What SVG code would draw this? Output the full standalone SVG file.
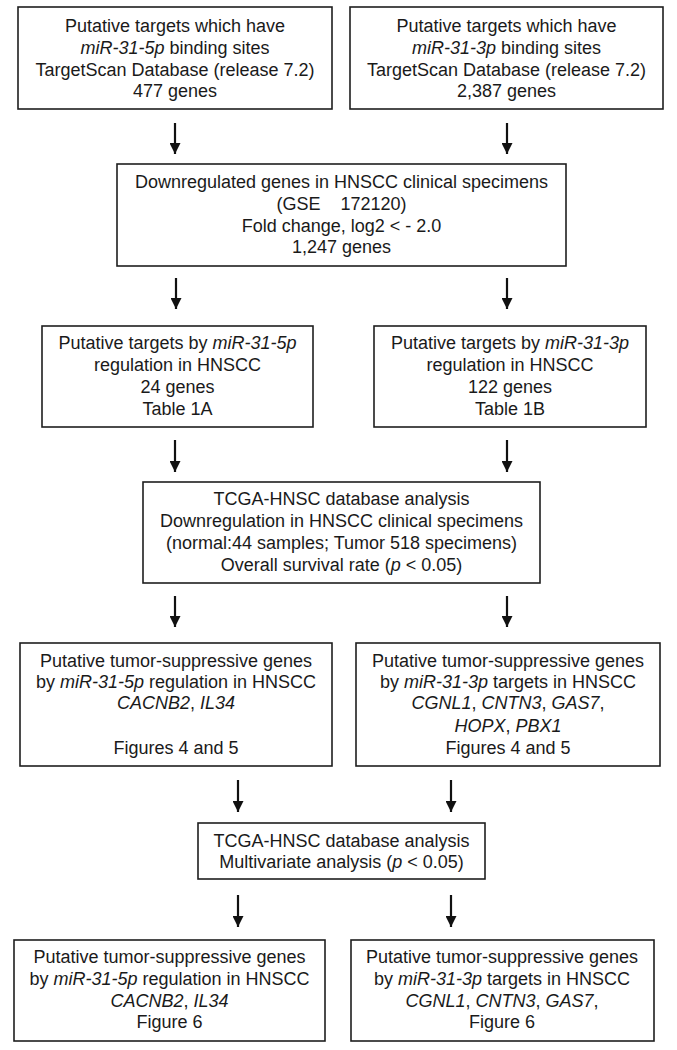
<svg xmlns="http://www.w3.org/2000/svg" width="677" height="1050" viewBox="0 0 677 1050">
<style>
  .box { fill: #ffffff; stroke: #1e1e1e; stroke-width: 1.6; }
  text { font-family: "Liberation Sans", Arial, sans-serif; font-size: 18px; fill: #1a1a1a; text-anchor: middle; }
  .i { font-style: italic; }
  .arr { stroke: #111; stroke-width: 2.2; fill: none; }
</style>
<defs>
  <marker id="ah" viewBox="0 0 10 10" refX="10" refY="5" markerWidth="5" markerHeight="5" markerUnits="strokeWidth" orient="auto">
    <path d="M0,0 L10,5 L0,10 Z" fill="#111"/>
  </marker>
</defs>
<rect width="677" height="1050" fill="#ffffff"/>

<g id="n1">
  <rect class="box" x="18" y="7" width="314" height="102"/>
  <text x="175" y="32">Putative targets which have</text>
  <text x="175" y="54"><tspan class="i">miR-31-5p</tspan> binding sites</text>
  <text x="175" y="76">TargetScan Database (release 7.2)</text>
  <text x="175" y="97">477 genes</text>
</g>
<g id="n2">
  <rect class="box" x="350" y="7" width="313" height="102"/>
  <text x="506.5" y="32">Putative targets which have</text>
  <text x="506.5" y="54"><tspan class="i">miR-31-3p</tspan> binding sites</text>
  <text x="506.5" y="76">TargetScan Database (release 7.2)</text>
  <text x="506.5" y="97">2,387 genes</text>
</g>
<g id="n3">
  <rect class="box" x="117" y="164" width="449" height="102"/>
  <text x="341.5" y="188">Downregulated genes in HNSCC clinical specimens</text>
  <text x="341.5" y="210" xml:space="preserve">(GSE    172120)</text>
  <text x="341.5" y="232">Fold change, log2 &lt; - 2.0</text>
  <text x="341.5" y="253">1,247 genes</text>
</g>
<g id="n4">
  <rect class="box" x="42" y="326" width="271" height="101"/>
  <text x="177.5" y="349">Putative targets by <tspan class="i">miR-31-5p</tspan></text>
  <text x="177.5" y="371">regulation in HNSCC</text>
  <text x="177.5" y="393">24 genes</text>
  <text x="177.5" y="415">Table 1A</text>
</g>
<g id="n5">
  <rect class="box" x="374" y="326" width="272" height="101"/>
  <text x="510" y="349">Putative targets by <tspan class="i">miR-31-3p</tspan></text>
  <text x="510" y="371">regulation in HNSCC</text>
  <text x="510" y="393">122 genes</text>
  <text x="510" y="415">Table 1B</text>
</g>
<g id="n6">
  <rect class="box" x="143" y="482" width="397" height="101"/>
  <text x="341.5" y="505">TCGA-HNSC database analysis</text>
  <text x="341.5" y="527">Downregulation in HNSCC clinical specimens</text>
  <text x="341.5" y="549">(normal:44 samples; Tumor 518 specimens)</text>
  <text x="341.5" y="571">Overall survival rate (<tspan class="i">p</tspan> &lt; 0.05)</text>
</g>
<g id="n7">
  <rect class="box" x="20" y="643" width="312" height="123"/>
  <text x="176" y="667">Putative tumor-suppressive genes</text>
  <text x="176" y="688">by <tspan class="i">miR-31-5p</tspan> regulation in HNSCC</text>
  <text x="176" y="709"><tspan class="i">CACNB2</tspan>, <tspan class="i">IL34</tspan></text>
  <text x="176" y="754">Figures 4 and 5</text>
</g>
<g id="n8">
  <rect class="box" x="356" y="643" width="304" height="123"/>
  <text x="508" y="667">Putative tumor-suppressive genes</text>
  <text x="508" y="688">by <tspan class="i">miR-31-3p</tspan> targets in HNSCC</text>
  <text x="508" y="709"><tspan class="i">CGNL1</tspan>, <tspan class="i">CNTN3</tspan>, <tspan class="i">GAS7</tspan>,</text>
  <text x="508" y="732"><tspan class="i">HOPX</tspan>, <tspan class="i">PBX1</tspan></text>
  <text x="508" y="754">Figures 4 and 5</text>
</g>
<g id="n9">
  <rect class="box" x="198" y="823" width="287" height="56"/>
  <text x="341.5" y="847">TCGA-HNSC database analysis</text>
  <text x="341.5" y="868">Multivariate analysis (<tspan class="i">p</tspan> &lt; 0.05)</text>
</g>
<g id="n10">
  <rect class="box" x="14" y="940" width="311" height="101"/>
  <text x="169.5" y="963">Putative tumor-suppressive genes</text>
  <text x="169.5" y="985">by <tspan class="i">miR-31-5p</tspan> regulation in HNSCC</text>
  <text x="169.5" y="1007"><tspan class="i">CACNB2</tspan>, <tspan class="i">IL34</tspan></text>
  <text x="169.5" y="1028">Figure 6</text>
</g>
<g id="n11">
  <rect class="box" x="351" y="940" width="303" height="101"/>
  <text x="502" y="963">Putative tumor-suppressive genes</text>
  <text x="502" y="985">by <tspan class="i">miR-31-3p</tspan> targets in HNSCC</text>
  <text x="502" y="1007"><tspan class="i">CGNL1</tspan>, <tspan class="i">CNTN3</tspan>, <tspan class="i">GAS7</tspan>,</text>
  <text x="502" y="1028">Figure 6</text>
</g>

<g id="connectors">
  <line class="arr" x1="175" y1="123" x2="175" y2="154" marker-end="url(#ah)"/>
  <line class="arr" x1="507" y1="123" x2="507" y2="154" marker-end="url(#ah)"/>
  <line class="arr" x1="176" y1="278" x2="176" y2="309" marker-end="url(#ah)"/>
  <line class="arr" x1="507" y1="278" x2="507" y2="309" marker-end="url(#ah)"/>
  <line class="arr" x1="175" y1="440" x2="175" y2="472" marker-end="url(#ah)"/>
  <line class="arr" x1="507" y1="440" x2="507" y2="472" marker-end="url(#ah)"/>
  <line class="arr" x1="175" y1="596" x2="175" y2="627" marker-end="url(#ah)"/>
  <line class="arr" x1="507" y1="596" x2="507" y2="627" marker-end="url(#ah)"/>
  <line class="arr" x1="238" y1="780" x2="238" y2="812" marker-end="url(#ah)"/>
  <line class="arr" x1="451" y1="780" x2="451" y2="812" marker-end="url(#ah)"/>
  <line class="arr" x1="238" y1="895" x2="238" y2="927" marker-end="url(#ah)"/>
  <line class="arr" x1="451" y1="895" x2="451" y2="927" marker-end="url(#ah)"/>
</g>
</svg>
